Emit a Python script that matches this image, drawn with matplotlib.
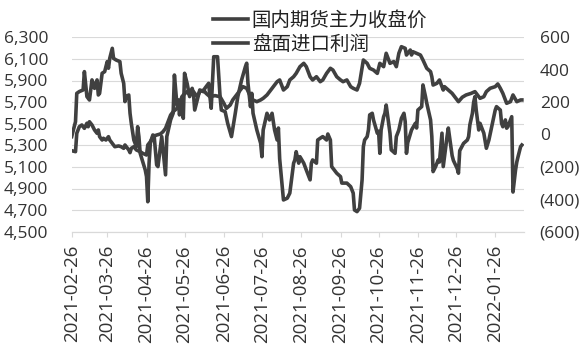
import matplotlib
matplotlib.use("Agg")
import matplotlib.pyplot as plt
import matplotlib.dates as mdates
from matplotlib.ticker import FuncFormatter, FixedLocator
from matplotlib.lines import Line2D
import pandas as pd

plt.rcParams['font.family'] = ['Open Sans', 'Noto Sans CJK SC', 'DejaVu Sans']

series_names = ["国内期货主力收盘价", "盘面进口利润"]

price_dates = ["2021-02-26","2021-03-01","2021-03-02","2021-03-04","2021-03-06","2021-03-08","2021-03-10","2021-03-11","2021-03-12","2021-03-14","2021-03-16","2021-03-18","2021-03-19","2021-03-20","2021-03-22","2021-03-23","2021-03-25","2021-03-27","2021-03-28","2021-03-31","2021-04-01","2021-04-04","2021-04-06","2021-04-08","2021-04-09","2021-04-12","2021-04-13","2021-04-14","2021-04-16","2021-04-18","2021-04-21","2021-04-23","2021-04-26","2021-04-27","2021-04-29","2021-05-01","2021-05-04","2021-05-07","2021-05-09","2021-05-11","2021-05-13","2021-05-15","2021-05-17","2021-05-20","2021-05-22","2021-05-25","2021-05-28","2021-05-30","2021-06-02","2021-06-05","2021-06-07","2021-06-10","2021-06-12","2021-06-15","2021-06-19","2021-06-23","2021-06-26","2021-06-28","2021-07-01","2021-07-03","2021-07-06","2021-07-09","2021-07-11","2021-07-14","2021-07-17","2021-07-19","2021-07-22","2021-07-25","2021-07-27","2021-07-30","2021-08-01","2021-08-04","2021-08-07","2021-08-09","2021-08-12","2021-08-15","2021-08-17","2021-08-20","2021-08-22","2021-08-25","2021-08-28","2021-08-30","2021-09-02","2021-09-04","2021-09-07","2021-09-10","2021-09-12","2021-09-15","2021-09-18","2021-09-20","2021-09-23","2021-09-26","2021-09-28","2021-10-01","2021-10-04","2021-10-06","2021-10-09","2021-10-11","2021-10-14","2021-10-17","2021-10-19","2021-10-22","2021-10-25","2021-10-27","2021-10-30","2021-11-01","2021-11-04","2021-11-07","2021-11-09","2021-11-11","2021-11-13","2021-11-16","2021-11-17","2021-11-20","2021-11-21","2021-11-22","2021-11-25","2021-11-28","2021-11-30","2021-12-03","2021-12-06","2021-12-07","2021-12-08","2021-12-11","2021-12-13","2021-12-16","2021-12-17","2021-12-20","2021-12-23","2021-12-25","2021-12-28","2021-12-31","2022-01-03","2022-01-07","2022-01-10","2022-01-14","2022-01-17","2022-01-19","2022-01-22","2022-01-26","2022-01-28","2022-01-30","2022-02-01","2022-02-04","2022-02-07","2022-02-09","2022-02-12","2022-02-15","2022-02-16"]
price_values = [5250,5241,5411,5472,5488,5457,5504,5472,5518,5488,5442,5411,5442,5380,5349,5365,5349,5380,5349,5303,5287,5294,5287,5272,5303,5257,5232,5272,5287,5257,5241,5226,5210,5303,5333,5380,5395,5405,5426,5457,5518,5580,5611,5642,5704,5766,5797,5766,5797,5750,5797,5812,5781,5750,5760,5750,5689,5642,5673,5720,5766,5812,5843,5828,5750,5720,5704,5720,5735,5766,5797,5843,5889,5905,5812,5843,5905,5935,5966,6028,6059,6028,5935,5905,5935,5889,5905,5966,6013,5997,5935,5905,5889,5905,5843,5828,5812,5874,6090,6059,6013,5997,5966,6059,6028,6152,6059,6075,6028,6152,6213,6198,6136,6182,6136,6167,6152,6136,6090,6013,5982,5935,5858,5874,5905,5812,5843,5812,5781,5750,5704,5745,5766,5781,5797,5735,5750,5797,5828,5843,5868,5828,5781,5689,5704,5766,5704,5720,5720]

profit_dates = ["2021-02-26","2021-03-01","2021-03-02","2021-03-04","2021-03-07","2021-03-08","2021-03-10","2021-03-12","2021-03-14","2021-03-15","2021-03-16","2021-03-18","2021-03-19","2021-03-20","2021-03-22","2021-03-24","2021-03-26","2021-03-27","2021-03-28","2021-03-30","2021-03-31","2021-04-02","2021-04-05","2021-04-06","2021-04-08","2021-04-09","2021-04-10","2021-04-12","2021-04-13","2021-04-14","2021-04-16","2021-04-18","2021-04-19","2021-04-20","2021-04-21","2021-04-23","2021-04-25","2021-04-26","2021-04-27","2021-04-28","2021-04-29","2021-05-01","2021-05-02","2021-05-04","2021-05-05","2021-05-08","2021-05-11","2021-05-12","2021-05-15","2021-05-17","2021-05-18","2021-05-20","2021-05-21","2021-05-22","2021-05-24","2021-05-25","2021-05-26","2021-05-28","2021-05-29","2021-05-30","2021-06-01","2021-06-02","2021-06-03","2021-06-05","2021-06-06","2021-06-07","2021-06-10","2021-06-11","2021-06-14","2021-06-15","2021-06-16","2021-06-18","2021-06-21","2021-06-23","2021-06-24","2021-06-27","2021-06-29","2021-07-02","2021-07-05","2021-07-07","2021-07-10","2021-07-13","2021-07-14","2021-07-15","2021-07-17","2021-07-18","2021-07-19","2021-07-22","2021-07-25","2021-07-26","2021-07-27","2021-07-30","2021-08-01","2021-08-03","2021-08-05","2021-08-07","2021-08-08","2021-08-09","2021-08-12","2021-08-15","2021-08-17","2021-08-18","2021-08-20","2021-08-21","2021-08-22","2021-08-24","2021-08-25","2021-08-28","2021-08-30","2021-09-02","2021-09-03","2021-09-04","2021-09-07","2021-09-08","2021-09-10","2021-09-12","2021-09-15","2021-09-16","2021-09-18","2021-09-19","2021-09-23","2021-09-26","2021-09-27","2021-10-01","2021-10-04","2021-10-05","2021-10-06","2021-10-07","2021-10-09","2021-10-11","2021-10-13","2021-10-14","2021-10-15","2021-10-17","2021-10-18","2021-10-19","2021-10-21","2021-10-22","2021-10-25","2021-10-26","2021-10-27","2021-10-28","2021-10-30","2021-10-31","2021-11-01","2021-11-03","2021-11-04","2021-11-05","2021-11-08","2021-11-09","2021-11-11","2021-11-13","2021-11-15","2021-11-16","2021-11-17","2021-11-18","2021-11-21","2021-11-24","2021-11-25","2021-11-26","2021-11-29","2021-11-30","2021-12-02","2021-12-03","2021-12-06","2021-12-07","2021-12-08","2021-12-10","2021-12-12","2021-12-13","2021-12-15","2021-12-16","2021-12-19","2021-12-20","2021-12-23","2021-12-24","2021-12-27","2021-12-28","2021-12-29","2022-01-01","2022-01-04","2022-01-05","2022-01-06","2022-01-08","2022-01-09","2022-01-10","2022-01-11","2022-01-13","2022-01-14","2022-01-17","2022-01-19","2022-01-21","2022-01-23","2022-01-26","2022-01-27","2022-01-30","2022-01-31","2022-02-01","2022-02-03","2022-02-04","2022-02-05","2022-02-07","2022-02-08","2022-02-09","2022-02-11","2022-02-12","2022-02-13","2022-02-15","2022-02-16"]
profit_values = [-13,79,254,265,275,388,234,213,337,316,285,337,244,254,378,388,450,409,470,532,470,460,450,378,316,203,234,244,131,69,-34,-75,48,-13,-116,-168,-219,-260,-415,-178,-54,-3,-7,-188,-198,-13,-249,-13,90,131,367,182,213,121,234,100,378,316,275,234,285,254,151,213,244,275,264,285,316,234,162,480,480,234,151,141,69,-13,131,234,337,419,440,316,172,254,131,28,-54,-137,28,131,90,131,28,-34,40,-150,-404,-393,-362,-300,-177,-157,-106,-177,-137,-177,-219,-280,-177,-157,-177,-34,-23,-13,-34,3,-34,-198,-239,-260,-300,-300,-322,-342,-362,-466,-476,-455,-280,-75,-34,-13,28,121,131,90,8,20,-116,28,110,131,182,69,8,-95,-116,-13,28,100,131,80,-116,-50,28,69,40,151,172,306,234,193,90,-13,-229,-198,-157,-170,8,-198,-13,40,-130,-160,-210,-239,-100,-55,-34,-13,60,131,200,234,151,28,69,8,-85,-34,39,151,172,151,69,48,90,39,48,90,110,-355,-220,-170,-137,-75,-65]

tick_dates = ["2021-02-26","2021-03-26","2021-04-26","2021-05-26","2021-06-26","2021-07-26",
              "2021-08-26","2021-09-26","2021-10-26","2021-11-26","2021-12-26","2022-01-26"]
x_range = ["2021-02-26", "2022-02-18"]
left_ticks = [4500, 4700, 4900, 5100, 5300, 5500, 5700, 5900, 6100, 6300]
right_ticks = [-600, -400, -200, 0, 200, 400, 600]

line_color = '#404040'
text_color = '#333333'
grid_color = '#d9d9d9'

fig = plt.figure(figsize=(5.86, 3.47), dpi=100)
W, H = 586.0, 347.0
ax = fig.add_axes([71.7 / W, 1 - 231.7 / H, (524.4 - 71.7) / W, (231.7 - 37.3) / H])
ax2 = ax.twinx()

pdates = pd.to_datetime(price_dates)
qdates = pd.to_datetime(profit_dates)
ax.plot(pdates, price_values, color=line_color, lw=2.6, solid_joinstyle='round', zorder=3)
ax2.plot(qdates, profit_values, color=line_color, lw=2.6, solid_joinstyle='round', zorder=3)

ax.set_xlim(pd.to_datetime(x_range[0]), pd.to_datetime(x_range[1]))
ax.set_ylim(left_ticks[0], left_ticks[-1])
ax2.set_ylim(right_ticks[0], right_ticks[-1])

ax.yaxis.set_major_locator(FixedLocator(left_ticks))
ax.yaxis.set_major_formatter(FuncFormatter(lambda v, p: f"{int(v):,}"))
ax2.yaxis.set_major_locator(FixedLocator(right_ticks))
ax2.yaxis.set_major_formatter(FuncFormatter(lambda v, p: f"({abs(int(v))})" if v < 0 else f"{int(v)}"))

ax.xaxis.set_major_locator(FixedLocator(mdates.date2num(pd.to_datetime(tick_dates))))
ax.xaxis.set_major_formatter(mdates.DateFormatter('%Y-%m-%d'))

ax.grid(axis='y', color=grid_color, lw=0.8, zorder=0)
ax.set_axisbelow(True)
for a in (ax, ax2):
    for s in ('left', 'right', 'top'):
        a.spines[s].set_visible(False)
    a.spines['bottom'].set_color(grid_color)
    a.spines['bottom'].set_linewidth(0.8)

ax.tick_params(axis='y', length=0, pad=17, labelsize=12.5, labelcolor=text_color)
ax2.tick_params(axis='y', length=0, pad=11, labelsize=12.5, labelcolor=text_color)
ax.tick_params(axis='x', length=3.6, width=0.8, color=grid_color, pad=6,
               labelsize=13.5, labelcolor=text_color, labelrotation=90)

handles = [Line2D([], [], color=line_color, lw=2.6) for _ in series_names]
fig.legend(handles, series_names, loc='upper left', bbox_to_anchor=(205 / W, 1 - 2 / H),
           frameon=False, prop={'family': ['Noto Sans CJK SC', 'DejaVu Sans'], 'size': 14},
           handlelength=1.8, handletextpad=0.2, labelspacing=0.15, borderaxespad=0,
           labelcolor='#222222')

fig.savefig('out.png', dpi=100)
